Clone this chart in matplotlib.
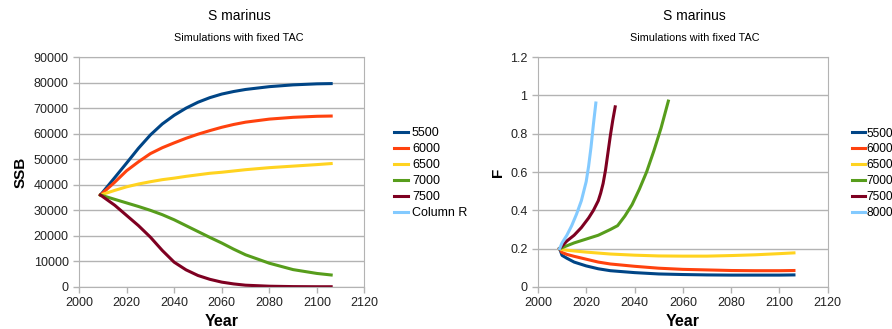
import matplotlib.pyplot as plt

plt.rcParams['font.family'] = ['Liberation Sans', 'DejaVu Sans']

# SSB simulations (left panel)
ssb_years = [2009, 2015, 2020, 2025, 2030, 2035, 2040, 2045, 2050, 2055, 2060, 2065,
             2070, 2080, 2090, 2100, 2106]
ssb_5500 = [36000, 42800, 48500, 54300, 59500, 63800, 67200, 70000, 72300, 74100, 75500, 76500,
            77300, 78400, 79100, 79500, 79600]
ssb_6000 = [36000, 41000, 45500, 49000, 52200, 54500, 56400, 58200, 59800, 61200, 62500, 63600,
            64500, 65700, 66400, 66800, 66900]
ssb_6500 = [36000, 37800, 39200, 40300, 41200, 42000, 42600, 43300, 43900, 44500, 44900, 45400,
            45900, 46700, 47300, 47900, 48300]
ssb_7000 = [36000, 34300, 32900, 31500, 30000, 28300, 26300, 24000, 21700, 19400, 17200, 14800,
            12600, 9300, 6800, 5300, 4700]
ssb_7500 = [36000, 32000, 28000, 24000, 19500, 14300, 9700, 6700, 4500, 3000, 1900, 1200,
            700, 300, 150, 100, 100]

# F simulations (right panel)
f_years_low = [2009, 2010, 2012, 2015, 2020, 2025, 2030, 2040, 2050, 2060, 2070, 2080, 2090, 2100, 2106]
f_5500 = [0.20, 0.165, 0.15, 0.13, 0.11, 0.095, 0.085, 0.075, 0.068, 0.065, 0.063, 0.062, 0.062, 0.062, 0.063]
f_6000 = [0.20, 0.18, 0.17, 0.16, 0.145, 0.13, 0.12, 0.108, 0.098, 0.092, 0.089, 0.086, 0.085, 0.085, 0.086]
f_6500 = [0.20, 0.195, 0.192, 0.188, 0.182, 0.177, 0.172, 0.166, 0.162, 0.161, 0.161, 0.164, 0.168, 0.174, 0.178]

f_years_7000 = [2009, 2015, 2020, 2025, 2030, 2033, 2036, 2039, 2042, 2045, 2048, 2051, 2054]
f_7000 = [0.20, 0.23, 0.25, 0.27, 0.30, 0.32, 0.37, 0.43, 0.51, 0.60, 0.71, 0.83, 0.97]

f_years_7500 = [2009, 2012, 2015, 2018, 2021, 2023, 2025, 2026, 2027, 2028, 2029, 2030, 2031, 2032]
f_7500 = [0.20, 0.24, 0.27, 0.31, 0.36, 0.40, 0.45, 0.49, 0.54, 0.61, 0.70, 0.79, 0.87, 0.94]

f_years_8000 = [2009, 2010, 2012, 2014, 2016, 2018, 2019, 2020, 2021, 2022, 2023, 2024]
f_8000 = [0.20, 0.23, 0.27, 0.32, 0.38, 0.45, 0.50, 0.55, 0.63, 0.73, 0.85, 0.96]

colors = ['#004586', '#ff420e', '#ffd320', '#579d1c', '#7e0021', '#83caff']
grid_col = '#b3b3b3'


def style_axes(ax):
    ax.set_xlim(2000, 2120)
    ax.set_xticks(range(2000, 2121, 20))
    for s in ax.spines.values():
        s.set_color(grid_col)
    ax.tick_params(colors=grid_col, labelcolor='#222222', labelsize=9, length=4, width=1)
    ax.yaxis.grid(True, color=grid_col, linewidth=1)
    ax.set_axisbelow(True)
    ax.set_xlabel('Year', fontsize=11.5, fontweight='bold', labelpad=3)


def add_legend(ax, x, size, pad):
    ax.legend(loc='center left', bbox_to_anchor=(x, 0.495), frameon=False, fontsize=size,
              handlelength=1.1, handletextpad=pad, labelspacing=0.32, borderaxespad=0,
              borderpad=0)


fig = plt.figure(figsize=(8.92, 3.29), dpi=100)

# Left panel: SSB
ax1 = fig.add_axes([0.0886, 0.1277, 0.320, 0.699])
lw = 2.2
ax1.plot(ssb_years, ssb_5500, color=colors[0], lw=lw, label='5500')
ax1.plot(ssb_years, ssb_6000, color=colors[1], lw=lw, label='6000')
ax1.plot(ssb_years, ssb_6500, color=colors[2], lw=lw, label='6500')
ax1.plot(ssb_years, ssb_7000, color=colors[3], lw=lw, label='7000')
ax1.plot(ssb_years, ssb_7500, color=colors[4], lw=lw, label='7500')
ax1.plot([], [], color=colors[5], lw=lw, label='Column R')
style_axes(ax1)
ax1.set_ylim(0, 90000)
ax1.set_yticks(range(0, 90001, 10000))
ax1.set_ylabel('SSB', fontsize=11, fontweight='bold', labelpad=4)
add_legend(ax1, 1.105, 9, 0.3)
fig.text(0.268, 0.951, 'S marinus', ha='center', va='center', fontsize=10)
fig.text(0.268, 0.884, 'Simulations with fixed TAC', ha='center', va='center', fontsize=7.8)

# Right panel: F
ax2 = fig.add_axes([0.603, 0.1277, 0.325, 0.699])
ax2.plot(f_years_low, f_5500, color=colors[0], lw=lw, label='5500')
ax2.plot(f_years_low, f_6000, color=colors[1], lw=lw, label='6000')
ax2.plot(f_years_low, f_6500, color=colors[2], lw=lw, label='6500')
ax2.plot(f_years_7000, f_7000, color=colors[3], lw=lw, label='7000')
ax2.plot(f_years_7500, f_7500, color=colors[4], lw=lw, label='7500')
ax2.plot(f_years_8000, f_8000, color=colors[5], lw=lw, label='8000')
style_axes(ax2)
ax2.set_ylim(0, 1.2)
ax2.set_yticks([0, 0.2, 0.4, 0.6, 0.8, 1, 1.2])
ax2.set_yticklabels(['0', '0.2', '0.4', '0.6', '0.8', '1', '1.2'])
ax2.set_ylabel('F', fontsize=11, fontweight='bold', labelpad=4)
add_legend(ax2, 1.082, 8.6, 0.12)
fig.text(0.779, 0.951, 'S marinus', ha='center', va='center', fontsize=10)
fig.text(0.779, 0.884, 'Simulations with fixed TAC', ha='center', va='center', fontsize=7.8)

fig.savefig('out.png', dpi=100)
